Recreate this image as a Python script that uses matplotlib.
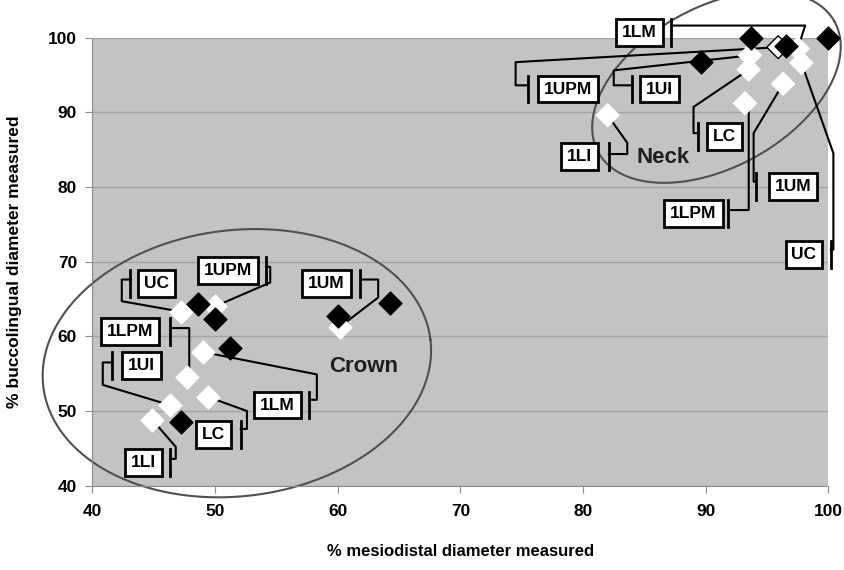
import numpy as np
import matplotlib.pyplot as plt

plt.rcParams['font.family'] = ['Liberation Sans', 'DejaVu Sans']
plt.rcParams['font.weight'] = 'bold'

# crown: white = labelled tooth, black = second series
crown_teeth = ['UC', '1UPM', '1UM', '1LM', '1LPM', 'LC', '1UI', '1LI']
crown_white_x = [47.2, 50.0, 60.2, 49.0, 47.7, 49.4, 46.3, 44.9]
crown_white_y = [63.3, 64.0, 61.3, 57.9, 54.5, 51.9, 50.8, 48.8]
crown_black_x = [48.6, 50.0, 64.3, 60.0, 51.2, 47.2]
crown_black_y = [64.3, 62.3, 64.4, 62.7, 58.4, 48.5]

# neck
neck_teeth = ['1LM', '1UPM', '1UI', 'LC', '1LI', '1UM', '1LPM', 'UC']
neck_white_x = [97.5, 95.9, 93.6, 93.5, 82.0, 96.3, 93.2, 97.8]
neck_white_y = [98.5, 98.7, 97.6, 95.7, 89.6, 93.8, 91.2, 96.6]
neck_black_x = [93.7, 100.0, 96.5, 89.6]
neck_black_y = [100.0, 100.0, 98.9, 96.7]

# label layout: text x, text y, bar x, elbow points of the leader
crown_layout = [
    (45.26, 67.1, 43.1, [(42.4, 67.6), (42.4, 64.7)]),
    (51.05, 68.8, 54.16, [(54.5, 69.3), (54.5, 67.2)]),
    (59.1, 67.1, 61.85, [(63.3, 67.6), (63.3, 65.2)]),
    (55.1, 50.8, 57.7, [(58.3, 51.5), (58.3, 54.9)]),
    (43.06, 60.6, 46.36, [(47.9, 61.1), (47.9, 55.4)]),
    (49.9, 46.9, 52.1, [(52.6, 47.6), (52.6, 50.0)]),
    (44.0, 56.1, 41.6, [(40.85, 56.5), (40.85, 53.5)]),
    (44.2, 43.1, 46.36, [(46.8, 43.6), (46.8, 45.2)]),
]
neck_layout = [
    (84.6, 100.7, 87.2, [(98.1, 101.6)]),
    (78.8, 93.1, 75.5, [(74.5, 93.6), (74.5, 96.7)]),
    (86.2, 93.1, 84.0, [(82.5, 93.6), (82.5, 95.6)]),
    (91.5, 86.8, 89.4, [(89.0, 87.2), (89.0, 90.7)]),
    (79.7, 84.1, 82.1, [(83.6, 84.4), (83.6, 85.9)]),
    (97.1, 80.1, 94.1, [(93.9, 80.7), (93.9, 87.2)]),
    (89.0, 76.4, 91.85, [(93.5, 76.9), (93.5, 90.3)]),
    (98.0, 70.9, 100.2, [(100.4, 71.6), (100.4, 84.5)]),
]

fig = plt.figure(figsize=(8.44, 5.70), dpi=100)
ax = fig.add_axes([0.1094, 0.1479, 0.8722, 0.7863])
ax.set_facecolor('#c3c3c3')
ax.set_xlim(40, 100)
ax.set_ylim(40, 100)
ax.set_xticks(range(40, 101, 10))
ax.set_yticks(range(40, 101, 10))
ax.grid(axis='y', color='#a3a3a3', lw=1)
ax.set_axisbelow(True)
for s in ['top', 'right']:
    ax.spines[s].set_visible(False)
for s in ['left', 'bottom']:
    ax.spines[s].set_color('#8c8c8c')
ax.tick_params(axis='x', direction='out', length=5, color='#8c8c8c', labelsize=12.5, pad=8)
ax.tick_params(axis='y', direction='out', length=5, color='#8c8c8c', labelsize=12.5, pad=6)
ax.set_xlabel('% mesiodistal diameter measured', fontsize=12, fontweight='bold', labelpad=18)
ax.set_ylabel('% buccolingual diameter measured', fontsize=12.5, fontweight='bold', labelpad=19)

# pixels per data unit, so ellipses can be given in screen terms
pos = ax.get_position()
sx = 844 * pos.width / 60.0
sy = 570 * pos.height / 60.0


def ring(cx, cy, a, b, ang):
    t = np.linspace(0, 2 * np.pi, 300)
    th = np.radians(ang)
    px = a * np.cos(t) * np.cos(th) - b * np.sin(t) * np.sin(th)
    py = a * np.cos(t) * np.sin(th) + b * np.sin(t) * np.cos(th)
    ax.plot(cx + px / sx, cy + py / sy, color='#505050', lw=1.5, clip_on=False, zorder=2)


ring(51.78, 56.4, 195, 133, 7)
ring(90.87, 93.37, 135, 80, 29)


def labels(teeth, wx, wy, layout):
    for name, x, y, (tx, ty, bx, elbows) in zip(teeth, wx, wy, layout):
        ax.text(tx, ty, name, fontsize=12.5, fontweight='bold', ha='center', va='center',
                bbox=dict(boxstyle='square,pad=0.34', fc='white', ec='black', lw=2),
                zorder=5, clip_on=False)
        ax.plot([bx, bx], [ty - 1.8, ty + 1.8], color='black', lw=2, clip_on=False, zorder=3)
        xs = [bx] + [p[0] for p in elbows] + [x]
        ys = [elbows[0][1]] + [p[1] for p in elbows] + [y]
        ax.plot(xs, ys, color='black', lw=1.5, clip_on=False, zorder=3)


labels(crown_teeth, crown_white_x, crown_white_y, crown_layout)
labels(neck_teeth, neck_white_x, neck_white_y, neck_layout)

edge = ['white'] * len(neck_white_x)
edge[1] = 'black'
ax.scatter(crown_white_x, crown_white_y, marker='D', s=135, c='white', edgecolors='white', zorder=4, clip_on=False)
ax.scatter(neck_white_x, neck_white_y, marker='D', s=135, c='white', edgecolors=edge, zorder=4, clip_on=False)
ax.scatter(crown_black_x, crown_black_y, marker='D', s=135, c='black', zorder=4.5, clip_on=False)
ax.scatter(neck_black_x, neck_black_y, marker='D', s=135, c='black', zorder=4.5, clip_on=False)

ax.text(62.1, 55.9, 'Crown', fontsize=16, fontweight='bold', ha='center', va='center', color='#1e1e1e')
ax.text(86.5, 84.0, 'Neck', fontsize=16, fontweight='bold', ha='center', va='center', color='#1e1e1e')

fig.savefig('out.png', dpi=100)
